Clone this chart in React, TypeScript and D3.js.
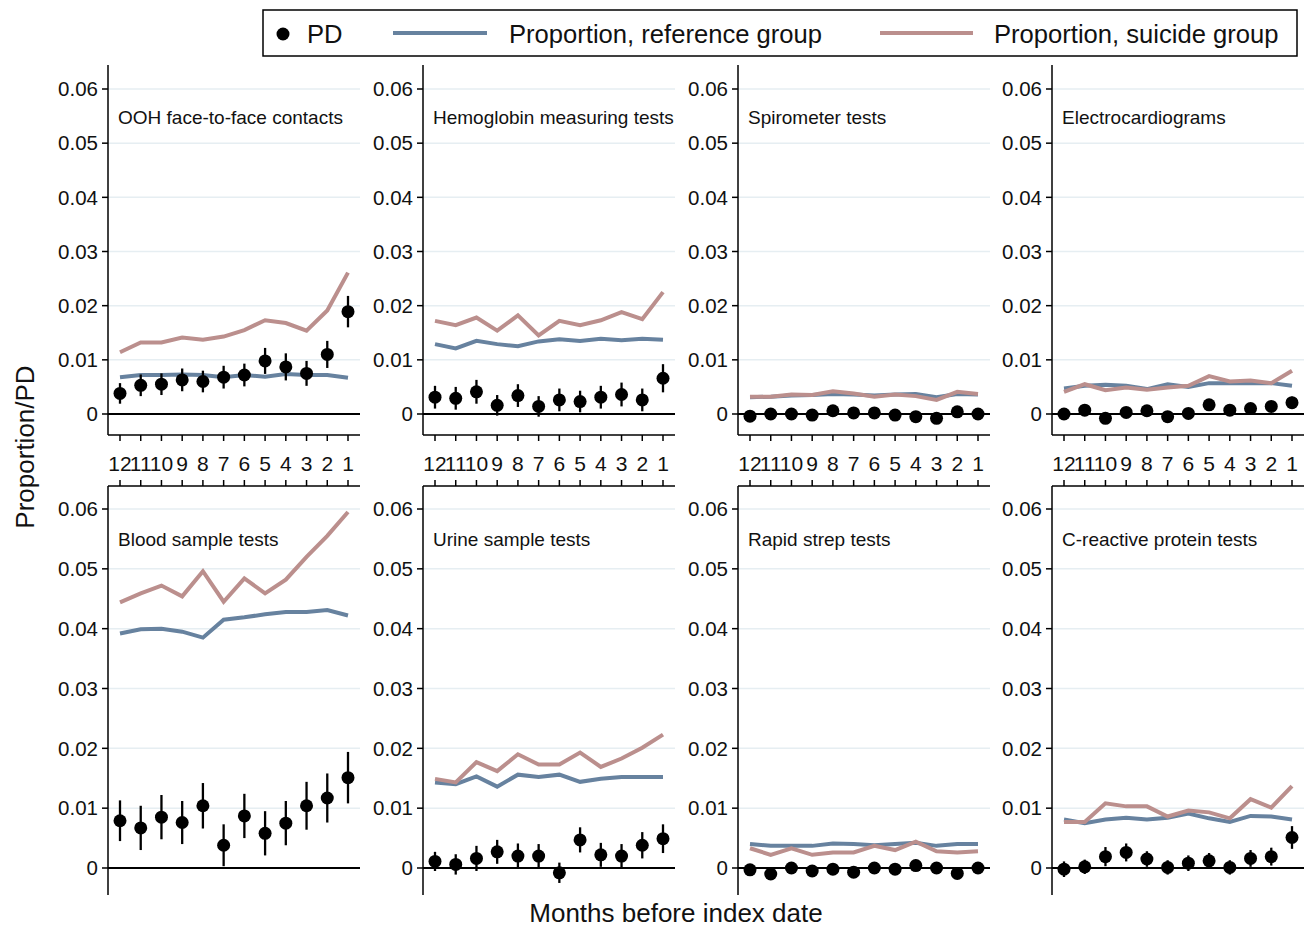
import React from "react";
import * as d3 from "d3";

// months before index date, left to right
const months = [12, 11, 10, 9, 8, 7, 6, 5, 4, 3, 2, 1];
const yTicks = [0, 0.01, 0.02, 0.03, 0.04, 0.05, 0.06];
const gridTicks = [0.01, 0.02, 0.03, 0.04, 0.05, 0.06];

const titles = [
  "OOH face-to-face contacts",
  "Hemoglobin measuring tests",
  "Spirometer tests",
  "Electrocardiograms",
  "Blood sample tests",
  "Urine sample tests",
  "Rapid strep tests",
  "C-reactive protein tests",
];

// OOH face-to-face contacts
const oohPD = [0.0038, 0.0053, 0.0055, 0.0063, 0.006, 0.0068, 0.0072, 0.0098, 0.0087, 0.0075, 0.011, 0.0189];
const oohCI = [0.0019, 0.002, 0.002, 0.0021, 0.002, 0.0021, 0.0021, 0.0024, 0.0025, 0.0023, 0.0025, 0.0029];
const oohRef = [0.0068, 0.0072, 0.0072, 0.0073, 0.0072, 0.0068, 0.0072, 0.0069, 0.0074, 0.0072, 0.0072, 0.0067];
const oohSui = [0.0114, 0.0132, 0.0132, 0.0141, 0.0137, 0.0143, 0.0155, 0.0173, 0.0168, 0.0154, 0.0191, 0.0261];

// Hemoglobin measuring tests
const hbPD = [0.0031, 0.0029, 0.0041, 0.0016, 0.0034, 0.0014, 0.0026, 0.0023, 0.0031, 0.0036, 0.0026, 0.0066];
const hbCI = [0.0021, 0.0021, 0.0022, 0.0019, 0.0021, 0.0019, 0.0021, 0.002, 0.0021, 0.0022, 0.0021, 0.0026];
const hbRef = [0.0129, 0.0121, 0.0135, 0.0129, 0.0125, 0.0134, 0.0138, 0.0135, 0.0139, 0.0136, 0.0139, 0.0137];
const hbSui = [0.0172, 0.0164, 0.0178, 0.0154, 0.0182, 0.0145, 0.0172, 0.0164, 0.0173, 0.0188, 0.0175, 0.0225];

// Spirometer tests
const spiPD = [-0.0004, 0, 0, -0.0002, 0.0006, 0.0002, 0.0002, -0.0002, -0.0005, -0.0008, 0.0004, 0];
const spiCI = [0.0006, 0.0006, 0.0006, 0.0006, 0.0008, 0.0007, 0.0006, 0.0006, 0.0006, 0.0006, 0.0007, 0.0007];
const spiRef = [0.0031, 0.0032, 0.0034, 0.0035, 0.0037, 0.0036, 0.0034, 0.0036, 0.0037, 0.0031, 0.0037, 0.0036];
const spiSui = [0.0032, 0.0032, 0.0036, 0.0035, 0.0042, 0.0038, 0.0032, 0.0036, 0.0033, 0.0026, 0.0041, 0.0037];

// Electrocardiograms
const ecgPD = [0, 0.0007, -0.0008, 0.0003, 0.0006, -0.0005, 0.0001, 0.0017, 0.0007, 0.001, 0.0014, 0.0021];
const ecgCI = [0.0007, 0.0008, 0.0007, 0.0008, 0.0008, 0.0007, 0.0008, 0.001, 0.0009, 0.001, 0.001, 0.0011];
const ecgRef = [0.0047, 0.0052, 0.0054, 0.0052, 0.0046, 0.0055, 0.005, 0.0057, 0.0057, 0.0057, 0.0057, 0.0052];
const ecgSui = [0.0041, 0.0055, 0.0044, 0.0049, 0.0045, 0.0049, 0.0052, 0.007, 0.006, 0.0062, 0.0057, 0.008];

// Blood sample tests
const bloodPD = [0.0079, 0.0067, 0.0085, 0.0076, 0.0104, 0.0038, 0.0087, 0.0058, 0.0075, 0.0104, 0.0117, 0.0151];
const bloodCI = [0.0034, 0.0037, 0.0037, 0.0036, 0.0038, 0.0035, 0.0037, 0.0037, 0.0037, 0.004, 0.0041, 0.0043];
const bloodRef = [0.0392, 0.0399, 0.04, 0.0395, 0.0385, 0.0415, 0.0419, 0.0424, 0.0428, 0.0428, 0.0431, 0.0422];
const bloodSui = [0.0444, 0.0459, 0.0472, 0.0454, 0.0496, 0.0445, 0.0484, 0.0459, 0.0482, 0.052, 0.0555, 0.0595];

// Urine sample tests
const urinePD = [0.0011, 0.0006, 0.0016, 0.0027, 0.002, 0.002, -0.0008, 0.0047, 0.0022, 0.002, 0.0038, 0.0049];
const urineCI = [0.0016, 0.0017, 0.0021, 0.002, 0.0021, 0.002, 0.0017, 0.0021, 0.002, 0.002, 0.0022, 0.0024];
const urineRef = [0.0143, 0.014, 0.0153, 0.0136, 0.0156, 0.0152, 0.0156, 0.0144, 0.0149, 0.0152, 0.0152, 0.0152];
const urineSui = [0.0149, 0.0143, 0.0177, 0.0162, 0.019, 0.0173, 0.0173, 0.0193, 0.0169, 0.0183, 0.0201, 0.0223];

// Rapid strep tests
const strepPD = [-0.0003, -0.001, 0, -0.0005, -0.0002, -0.0007, 0, -0.0002, 0.0004, 0, -0.0009, 0];
const strepCI = [0.0006, 0.0006, 0.0006, 0.0006, 0.0006, 0.0006, 0.0006, 0.0006, 0.0008, 0.0006, 0.0006, 0.0006];
const strepRef = [0.004, 0.0037, 0.0037, 0.0037, 0.0041, 0.004, 0.0038, 0.004, 0.0042, 0.0037, 0.004, 0.004];
const strepSui = [0.0033, 0.0022, 0.0033, 0.0022, 0.0026, 0.0026, 0.0037, 0.003, 0.0044, 0.0028, 0.0026, 0.0028];

// C-reactive protein tests
const crpPD = [-0.0002, 0.0002, 0.0019, 0.0026, 0.0015, 0.0001, 0.0008, 0.0012, 0.0001, 0.0016, 0.0019, 0.0051];
const crpCI = [0.0013, 0.0012, 0.0016, 0.0015, 0.0013, 0.0012, 0.0013, 0.0013, 0.0012, 0.0014, 0.0015, 0.0019];
const crpRef = [0.0081, 0.0075, 0.0081, 0.0084, 0.0081, 0.0084, 0.0091, 0.0083, 0.0077, 0.0087, 0.0086, 0.0081];
const crpSui = [0.0077, 0.0077, 0.0108, 0.0103, 0.0103, 0.0086, 0.0096, 0.0093, 0.0083, 0.0115, 0.0101, 0.0137];

const panels = [
  { pd: oohPD, ci: oohCI, ref: oohRef, sui: oohSui },
  { pd: hbPD, ci: hbCI, ref: hbRef, sui: hbSui },
  { pd: spiPD, ci: spiCI, ref: spiRef, sui: spiSui },
  { pd: ecgPD, ci: ecgCI, ref: ecgRef, sui: ecgSui },
  { pd: bloodPD, ci: bloodCI, ref: bloodRef, sui: bloodSui },
  { pd: urinePD, ci: urineCI, ref: urineRef, sui: urineSui },
  { pd: strepPD, ci: strepCI, ref: strepRef, sui: strepSui },
  { pd: crpPD, ci: crpCI, ref: crpRef, sui: crpSui },
];

const BLUE = "#67829f";
const PINK = "#bb8f8d";
const FONT = "'Liberation Sans', Arial, sans-serif";

const colX = [108, 423, 738, 1052];
const rows = [
  { zero: 414, top: 89, axisTop: 65, axisBottom: 435, xAxis: 435, tickDir: 1, titleY: 124 },
  { zero: 868, top: 509, axisTop: 486, axisBottom: 895, xAxis: 486, tickDir: -1, titleY: 546 },
];
const panelW = 252;

function Panel({ idx }: { idx: number }) {
  const p = panels[idx];
  const row = rows[Math.floor(idx / 4)];
  const x0 = colX[idx % 4];
  const x = d3.scaleLinear().domain([12, 1]).range([x0 + 12, x0 + 240]);
  const y = d3.scaleLinear().domain([0, 0.06]).range([row.zero, row.top]);
  const line = d3
    .line<number>()
    .x((_, i) => x(months[i]))
    .y((d) => y(d));

  return (
    <g>
      {gridTicks.map((t) => (
        <line key={t} x1={x0} x2={x0 + panelW} y1={y(t)} y2={y(t)} stroke="#e6eef2" strokeWidth={1.5} />
      ))}
      {/* y axis */}
      <line x1={x0} x2={x0} y1={row.axisTop} y2={row.axisBottom} stroke="#000" strokeWidth={1.5} />
      {yTicks.map((t) => (
        <g key={t}>
          <line x1={x0 - 6} x2={x0} y1={y(t)} y2={y(t)} stroke="#000" strokeWidth={1.5} />
          <text x={x0 - 10} y={y(t)} dy="0.35em" textAnchor="end" fontSize={20.5} fontFamily={FONT} fill="#111">
            {t === 0 ? "0" : d3.format(".2f")(t)}
          </text>
        </g>
      ))}
      {/* x axis */}
      <line x1={x0} x2={x0 + panelW} y1={row.xAxis} y2={row.xAxis} stroke="#000" strokeWidth={1.5} />
      {months.map((m) => (
        <line key={m} x1={x(m)} x2={x(m)} y1={row.xAxis} y2={row.xAxis + row.tickDir * 6} stroke="#000" strokeWidth={1.5} />
      ))}
      {row.tickDir === 1 &&
        months.map((m) => (
          <text key={"l" + m} x={x(m)} y={471} textAnchor="middle" fontSize={21} fontFamily={FONT} fill="#111">
            {m}
          </text>
        ))}
      {/* zero line */}
      <line x1={x0} x2={x0 + panelW} y1={y(0)} y2={y(0)} stroke="#000" strokeWidth={1.8} />
      <text x={x0 + 10} y={row.titleY} fontSize={19} fontFamily={FONT} fill="#111">
        {titles[idx]}
      </text>
      <path d={line(p.ref) || ""} fill="none" stroke={BLUE} strokeWidth={4} />
      <path d={line(p.sui) || ""} fill="none" stroke={PINK} strokeWidth={4} />
      {p.pd.map((v, i) => (
        <g key={i}>
          <line
            x1={x(months[i])}
            x2={x(months[i])}
            y1={y(v - p.ci[i])}
            y2={y(v + p.ci[i])}
            stroke="#000"
            strokeWidth={2.3}
          />
          <circle cx={x(months[i])} cy={y(v)} r={6.5} fill="#000" />
        </g>
      ))}
    </g>
  );
}

export default function App() {
  return (
    <svg
      width={1311}
      height={928}
      style={{ position: "absolute", left: 0, top: 0, background: "#fff" }}
    >
      <rect x={0} y={0} width={1311} height={928} fill="#fff" />
      {/* legend */}
      <rect x={263} y={10} width={1034} height={46} fill="#fff" stroke="#000" strokeWidth={1.5} />
      <circle cx={283} cy={34} r={6.5} fill="#000" />
      <text x={307} y={43} fontSize={25.6} fontFamily={FONT} fill="#111">PD</text>
      <line x1={393} x2={487} y1={33} y2={33} stroke={BLUE} strokeWidth={4} />
      <text x={509} y={43} fontSize={25.6} fontFamily={FONT} fill="#111">Proportion, reference group</text>
      <line x1={880} x2={973} y1={33} y2={33} stroke={PINK} strokeWidth={4} />
      <text x={994} y={43} fontSize={25.6} fontFamily={FONT} fill="#111">Proportion, suicide group</text>

      {panels.map((_, i) => (
        <Panel key={i} idx={i} />
      ))}

      <text
        transform="translate(34,447) rotate(-90)"
        textAnchor="middle"
        fontSize={26}
        fontFamily={FONT}
        fill="#111"
      >
        Proportion/PD
      </text>
      <text x={676} y={922} textAnchor="middle" fontSize={26} fontFamily={FONT} fill="#111">
        Months before index date
      </text>
    </svg>
  );
}
